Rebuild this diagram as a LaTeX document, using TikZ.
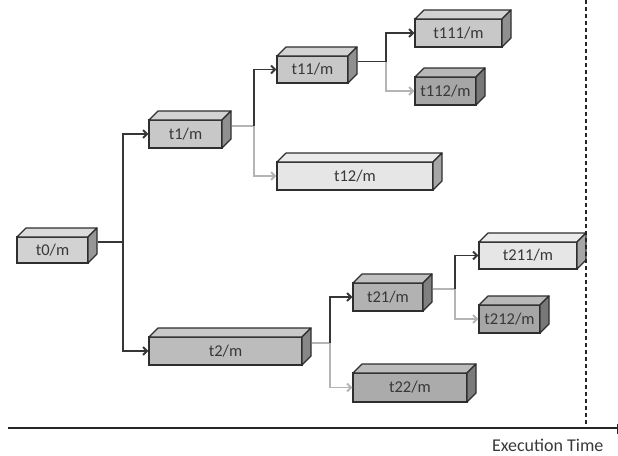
\documentclass[tikz,border=0pt]{standalone}
\usepackage{fontspec}
\setmainfont{Carlito}
\usetikzlibrary{arrows.meta,backgrounds}
\definecolor{edge}{HTML}{2E2E2E}
\definecolor{dk}{HTML}{363636}
\definecolor{lt}{HTML}{B4B4B4}
\definecolor{cA}{HTML}{D2D2D2}
\definecolor{cB}{HTML}{C8C8C8}
\definecolor{cC}{HTML}{A6A6A6}
\definecolor{cD}{HTML}{E6E6E6}
\definecolor{cE}{HTML}{BCBCBC}
\definecolor{cF}{HTML}{B2B2B2}
\definecolor{cG}{HTML}{ABABAB}
\tikzset{
  cube/.style={draw=edge, line width=1.2pt, inner sep=0pt, text=black!78,
    font=\fontsize{16.5}{18}\selectfont},
  face/.style={draw=edge, line width=1.2pt, line join=round},
  darkline/.style={draw=dk, line width=1.9pt},
  lightline/.style={draw=lt, line width=1.9pt},
  tip/.style={-{Straight Barb[length=4pt,width=8pt]}},
}
\newcommand\cubebox[7]{%
  \node[cube, fill=#6, minimum width={(#4-#2)*1pt}, minimum height={(#5-#3)*1pt}]
    (#1) at ({(#2+#4)/2},{(#3+#5)/2}) {#7};
  \path[face, fill=#6!80!white] (#2,#3) -- ++(9,-9) -- ({#4+9},{#3-9}) -- (#4,#3) -- cycle;
  \path[face, fill=#6!72!black] (#4,#3) -- ++(9,-9) -- ({#4+9},{#5-9}) -- (#4,#5) -- cycle;
}
\begin{document}
\begin{tikzpicture}[x=1pt,y=-1pt]
\useasboundingbox (0,0) rectangle (618,455);

\cubebox{t0}{17}{237}{88}{263}{cA}{t0/m}
\cubebox{t1}{149}{120}{222}{148}{cB}{t1/m}
\cubebox{t11}{277}{56}{348}{83}{cB}{t11/m}
\cubebox{t111}{415}{19}{502}{47}{cB}{t111/m}
\cubebox{t112}{415}{77}{476}{105}{cC}{t112/m}
\cubebox{t12}{277}{162}{433}{190}{cD}{t12/m}
\cubebox{t2}{149}{337}{302}{365}{cE}{t2/m}
\cubebox{t21}{353}{283}{423}{311}{cF}{t21/m}
\cubebox{t211}{479}{242}{577}{269}{cD}{t211/m}
\cubebox{t212}{479}{305}{540}{333}{cC}{t212/m}
\cubebox{t22}{353}{373}{467}{402}{cG}{t22/m}

% junctions
\path ([xshift=9pt,yshift=8pt]t0.east) coordinate (s0);
\path (123,0) coordinate (x0);
\coordinate (j0) at (s0 -| x0);
\path ([xshift=9pt,yshift=8pt]t1.east) coordinate (s1);
\path (254,0) coordinate (x1);
\coordinate (j1) at (s1 -| x1);
\path ([xshift=9pt,yshift=8pt]t11.east) coordinate (s11);
\path (386,0) coordinate (x11);
\coordinate (j11) at (s11 -| x11);
\path ([xshift=9pt,yshift=8pt]t2.east) coordinate (s2);
\path (330,0) coordinate (x2);
\coordinate (j2) at (s2 -| x2);
\path ([xshift=9pt,yshift=8pt]t21.east) coordinate (s21);
\path (455,0) coordinate (x21);
\coordinate (j21) at (s21 -| x21);

% connectors
\draw[darkline] (s0) -- (j0);
\draw[darkline, tip] (j0) |- (t1.west);
\draw[darkline, tip] (j0) |- (t2.west);

\draw[lightline] (s1) -- (j1);
\draw[lightline, tip] (j1) |- (t12.west);
\draw[darkline, tip] (j1) |- (t11.west);

\draw[lightline, tip] (j11) |- (t112.west);
\draw[darkline] (s11) -- (j11);
\draw[darkline, tip] (j11) |- (t111.west);

\draw[lightline] (s2) -- (j2);
\draw[lightline, tip] (j2) |- (t22.west);
\draw[darkline, tip] (j2) |- (t21.west);

\draw[lightline] (s21) -- (j21);
\draw[lightline, tip] (j21) |- (t212.west);
\draw[darkline, tip] (j21) |- (t211.west);

% time axis
\coordinate (a0) at (8,428);
\coordinate (a1) at (618,428);
\draw[draw=black!85, line width=2.2pt] (a0) -- (a1);
\coordinate (d0) at (586,0);
\coordinate (d1) at (586,428);
\draw[draw=black!85, line width=1.6pt, dash pattern=on 4pt off 3pt] (d0) -- (d1);
\coordinate (k0) at (617,424);
\coordinate (k1) at (617,434);
\draw[draw=black!85, line width=0.8pt] (k0) -- (k1);
\node[font=\fontsize{18}{20}\selectfont, text=black!78, anchor=east] (lbl) at (607,445) {Execution Time};
\end{tikzpicture}
\end{document}
